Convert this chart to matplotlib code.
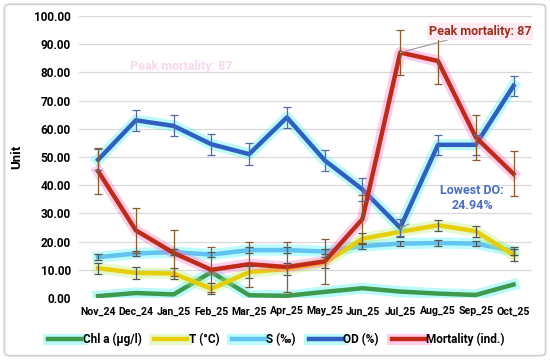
import matplotlib
matplotlib.use("Agg")
import matplotlib.pyplot as plt
import matplotlib.patheffects as pe
from matplotlib.patches import FancyBboxPatch
import numpy as np

plt.rcParams['font.family'] = ['Roboto', 'DejaVu Sans']
plt.rcParams['font.weight'] = 'bold'

# months on the x axis
months = ["Nov_24", "Dec_24", "Jan_25", "Feb_25", "Mar_25", "Apr_25",
          "May_25", "Jun_25", "Jul_25", "Aug_25", "Sep_25", "Oct_25"]

# series
chl = [0.7, 1.8, 1.3, 9.2, 1.0, 0.8, 2.2, 3.5, 2.3, 1.6, 1.1, 4.8]
temp = [10.6, 8.9, 8.7, 3.3, 9.2, 10.3, 12.5, 21.0, 23.5, 25.8, 23.7, 15.3]
temp_err = [2.0, 2.0, 2.0, 2.0, 2.0, 2.0, 2.0, 2.0, 2.0, 2.0, 2.0, 2.0]
sal = [14.5, 15.8, 16.3, 15.4, 17.0, 17.0, 16.5, 18.4, 19.3, 19.5, 19.3, 16.7]
sal_err = [1.0, 1.0, 1.0, 1.0, 1.0, 1.0, 1.0, 1.0, 1.0, 1.0, 1.0, 1.5]
od = [49.0, 63.0, 61.0, 54.5, 51.0, 64.0, 48.8, 38.5, 24.94, 54.3, 54.3, 75.2]
od_err = [3.7, 3.7, 3.7, 3.7, 3.8, 3.7, 3.7, 4.0, 3.0, 3.6, 3.5, 3.5]
mort = [45.0, 24.0, 16.0, 10.0, 12.0, 11.0, 13.0, 28.0, 87.0, 84.0, 57.0, 44.0]
mort_err = [8.0, 8.0, 8.0, 8.0, 8.0, 9.0, 8.0, 8.5, 8.0, 8.0, 8.0, 8.0]

x = np.arange(len(months))

fig = plt.figure(figsize=(5.5, 3.6), dpi=100)
fig.patches.append(FancyBboxPatch((0.008, 0.012), 0.984, 0.976,
                                  boxstyle="round,pad=0,rounding_size=0.01",
                                  transform=fig.transFigure, fill=False,
                                  edgecolor="#d0d0d0", linewidth=1.2))
ax = fig.add_axes([0.144, 0.172, 0.824, 0.784])

def glowline(y, color, glow, label, z):
    ax.plot(x, y, color=color, linewidth=3.2, label=label, zorder=z,
            solid_joinstyle="round",
            path_effects=[pe.Stroke(linewidth=8, foreground=glow, alpha=0.35),
                          pe.Normal()])

glowline(chl, "#3f9a4e", "#40f0f0", "Chl a (µg/l)", 3)
glowline(temp, "#e6cf0a", "#b8f070", "T (°C)", 4)
glowline(sal, "#62c3ef", "#40f8f8", "S (‰)", 3)
glowline(od, "#2f5fc2", "#40f0f0", "OD (%)", 5)
glowline(mort, "#c02a18", "#ff70c0", "Mortality (ind.)", 6)

ekw = dict(fmt="none", elinewidth=0.9, capsize=3, capthick=0.9)
ax.errorbar(x, temp, yerr=temp_err, ecolor="#555555", zorder=7, **ekw)
ax.errorbar(x, sal, yerr=sal_err, ecolor="#555555", zorder=7, **ekw)
ax.errorbar(x, od, yerr=od_err, ecolor="#4f6aa8", zorder=7, **ekw)
ax.errorbar(x, mort, yerr=mort_err, ecolor="#8b5a2b", zorder=7, **ekw)

ax.set_xlim(-0.5, len(months) - 0.5)
ax.set_ylim(0, 100)
ax.set_yticks(np.arange(0, 101, 10))
ax.set_yticklabels(["{:.2f}".format(v) for v in np.arange(0, 101, 10)],
                   fontsize=8.5, fontweight="bold")
ax.set_xticks(x)
ax.set_xticklabels(months, fontsize=7.6, fontweight="bold")
ax.tick_params(length=0, pad=6)
ax.set_ylabel("Unit", fontsize=9.5, fontweight="bold", labelpad=8)
ax.grid(axis="y", color="#d9d9d9", linewidth=0.9)
ax.set_axisbelow(True)
for s in ax.spines.values():
    s.set_visible(False)

# annotations
ip = int(np.argmax(mort))
ax.annotate("Peak mortality: {:.0f}".format(mort[ip]), xy=(x[ip], mort[ip]),
            xytext=(x[ip] + 0.75, 94.5), color="#a0301c", fontsize=9,
            fontweight="bold", va="center", ha="left", zorder=9,
            bbox=dict(boxstyle="square,pad=0.15", fc="#fdeaf2", ec="none"),
            arrowprops=dict(arrowstyle="-", color="#999999", lw=0.8,
                            shrinkA=0, shrinkB=0))
ax.text(0.85, 82, "Peak mortality: 87", color="#f8d8ee", fontsize=9,
        fontweight="bold", va="center", zorder=1)
io = int(np.argmin(od))
ax.annotate("Lowest DO:\n{:.2f}%".format(od[io]), xy=(x[io], od[io]),
            xytext=(9.9, 35.5), color="#4a6fc0", fontsize=9,
            fontweight="bold", ha="center", va="center", zorder=9,
            linespacing=1.25,
            arrowprops=dict(arrowstyle="-", color="#999999", lw=0.8,
                            shrinkA=22, shrinkB=0))

leg = ax.legend(loc="upper center", bbox_to_anchor=(0.435, -0.085), ncol=5,
                frameon=False, fontsize=8.5, handlelength=2.8,
                handletextpad=0.1, columnspacing=1.1)

fig.savefig("out.png", dpi=100)
